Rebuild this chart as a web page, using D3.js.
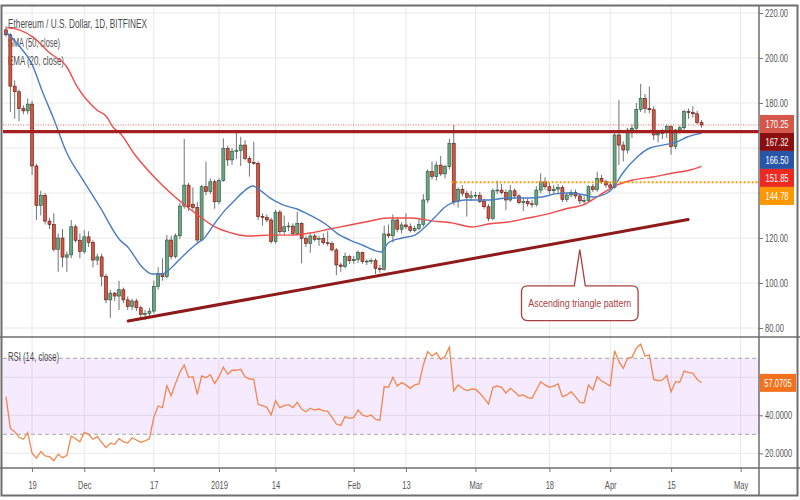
<!DOCTYPE html>
<html><head><meta charset="utf-8">
<script src="https://cdnjs.cloudflare.com/ajax/libs/d3/7.8.5/d3.min.js"></script>
<style>body{margin:0;background:#fff}svg{display:block}text{font-family:'Liberation Sans',Arial,sans-serif}</style>
</head><body><svg id="c" width="800" height="500"></svg>
<script>
// ---------------- DATA ----------------
const startDate = "2018-11-13";
const opens  = [212.5,210.3,187.5,185,177.5,176.5,179.5,152,134.5,139,127.5,126,115,120,111.5,112.5,125,119,114,120.5,118,110.2,111.6,103,92.5,95.5,94.2,97,92.5,89.5,92,89,86,86.5,87.5,98.5,104.3,102.8,119.1,111.7,121,134.2,143.5,135,133.5,119.1,142.8,140.6,145,136.1,145.5,159.8,154.7,158.6,158.9,161.3,155.4,153.6,153.2,129.5,129.2,128,118.4,131.5,122.8,125,125.3,122,126.5,119.8,117.6,120.9,119.4,119.8,117.9,117.5,114.7,108,107.3,111.7,109.9,110.5,113.5,109.5,109.7,110,106.5,106,121.8,121,128,123.9,125.8,125,123.3,124.3,126,136.9,149.5,147.3,152.4,148.5,151.7,162.1,136.2,141.6,139.9,138.1,138.8,139,136.2,133.9,128.7,141,141.3,140.2,136.9,141,138.7,135.7,136.2,135.2,134.9,141.3,145,142.8,141,141.7,142.5,137.2,139.1,140.2,138.7,136.5,136.7,142.8,141.5,146.5,145,143.6,142.5,165.8,161.3,159.1,168,168.8,177.2,182.1,177.6,177,165.8,166.5,166.8,169.5,160.6,168,169,176.2,175.7,175.2,171.3];
const highs  = [214,211,190,186,179,182,181,153,141,140,129,131,122,124,114,128,126,122,123.5,123,119,113,113,104,97,96,101,98,94,93,93,90,88,89,101,107,111,121.3,121,122,135.5,164,144.5,142.5,136,143.5,153.9,146.5,146,146.5,164.3,161,160,167.3,165,163.5,156.5,162.8,154,131,130.5,129,132.5,132.5,130,127,126.5,131.7,127,121,122,122,121,122,123,118.5,115.5,109,113.5,112.5,112,114.5,114,110.5,111,111,108,125.5,126,130.5,129,127,131,126.5,125.5,128.5,139.5,150.5,154,154,156.5,152.5,164,170.2,142.5,143.5,141,141,140.5,140.5,137.5,135,142,145.5,144,141.5,143.5,142,139.5,138,137.5,137,143,148.7,147,144.5,143.5,144,143.5,140,141.5,141.5,139.5,138.5,143.5,144,149.5,148,146,145,166.5,181.3,163,169,170.5,180,188.5,184,187.3,178.5,168,168.5,170.5,170,168.5,170,177,177.5,178.6,176.5,172.5];
const lows   = [209.5,176,173,172,175,175,148,128,130,126,124,114,105,107,105,111,118,111,113,116,107,108,98.5,91,84.5,92,88,91,88,88,87.5,84,83.5,85,86.5,97,101,102,110.5,111,119.5,133,132,132.5,118,118.5,139,139.5,133,135,145,152,152.5,155,152,154.5,147.3,152.5,128,125.5,127,117.5,117.5,121.5,121.5,123,121,121,108.7,116,113.5,118.5,116.5,117,116.5,114,103.5,105,106.5,108.5,108.5,109,108.5,108,108.5,104,104.5,105.5,120,118,122.5,122,124,122.5,122.5,123.5,125,135.5,146,145.5,147.5,146.5,150.5,134.5,133.5,138.5,129.5,136.5,137.5,135.5,133,127.5,128,139.5,139.5,132.5,136,137.5,135,132,134,133.5,134,140,141.5,139.5,139.5,140,136,136,138,137.5,135,135,136,140.5,140.5,144,142.5,141.5,142,152.4,154,157.5,164.5,166.5,176,175.5,175.5,163.5,162.5,164,164.5,157,159.5,166.5,168,173,173.5,170.5,169];
const closes = [210.3,187.5,185,177.5,176.5,179.5,152,134.5,139,127.5,126,115,120,111.5,112.5,125,119,114,120.5,118,110.2,111.6,103,92.5,95.5,94.2,97,92.5,89.5,92,89,86,86.5,87.5,98.5,104.3,102.8,119.1,111.7,121,134.2,143.5,133.9,133.5,119.1,142.8,140.6,145,136.1,145.5,159.8,154.7,158.6,158.9,161.3,155.4,153.6,153.2,129.5,129.2,128,118.4,131.5,122.8,125,125.3,122,126.5,119.8,117.6,120.9,119.4,119.8,117.9,117.5,114.7,108,107.3,111.7,109.9,110.5,113.5,109.5,109.7,110,106.5,106,121.8,121,128,123.9,125.8,125,123.3,124.3,126,136.9,149.5,147.3,152.4,148.5,151.7,162.1,136.2,141.6,139.9,138.1,138.8,139,136.2,133.9,128.7,141,141.3,140.2,136.9,141,138.7,135.7,136.2,135.2,134.9,141.3,145,142.8,141,141.7,142.5,137.2,139.1,140.2,138.7,136.5,136.7,142.8,141.5,146.5,145,143.6,142.5,165.8,161.3,159.1,168,168.8,177.2,182.1,177.6,177,165.8,166.5,166.8,169.5,160.6,168,169,176.2,175.7,175.2,171.3,170.25];
const rsiValues = [49.8,33.1,31.4,28.4,27.4,30.9,20.0,17.4,20.9,18.6,18.2,16.1,19.5,17.7,18.9,29.1,27.7,26.1,31.0,30.0,27.4,28.8,25.8,23.0,25.3,24.7,27.7,26.1,25.4,28.2,27.0,25.8,26.5,27.7,38.9,44.9,44.0,55.6,50.3,56.8,62.6,66.5,60.0,60.3,51.0,60.7,59.8,61.4,56.8,60.3,65.3,61.6,63.7,63.7,64.2,60.3,59.1,58.9,45.8,45.1,44.2,40.2,47.7,44.0,45.1,45.6,44.0,46.8,43.3,41.9,43.7,42.8,43.3,42.4,42.1,38.9,35.4,34.7,39.3,38.4,38.9,42.8,40.2,39.3,40.2,37.9,37.3,55.1,54.7,60.0,55.4,57.2,56.0,54.2,56.0,56.5,66.5,73.5,71.2,73.0,69.5,70.9,75.8,52.8,56.0,54.2,53.0,53.7,53.7,51.6,48.9,45.9,54.7,55.4,54.7,51.6,54.2,52.4,50.2,50.7,49.3,48.9,53.3,57.7,56.0,54.7,55.4,56.5,49.8,50.7,52.4,49.8,46.8,46.6,56.0,53.3,60.3,58.2,56.8,55.4,74.0,68.2,64.7,70.0,70.5,75.3,77.5,71.2,71.7,58.9,58.2,58.6,60.9,52.4,57.7,57.4,63.3,62.6,62.1,58.9,57.07];
const emaDays   = [0,3.2,5.9,8.5,10.8,14,17.7,21.6,26.2,28,31.3,33.6,35.9,38.2,40.5,43.5,45.8,48.1,50.4,52.7,54.5,56.8,58.4,60.7,63.7,66.9,69.9,73.8,76.1,79.1,81.9,86.3,87.9,91.1,94.1,96.4,98.7,101,102.6,105.6,107.9,110.9,115.5,120.1,123.3,126.3,129.3,133.2,135,138.3,139.6,141.9,145.2,148.1,151.1,154.4,156.7,160];
const emaValues = [211.5,205.0,197.6,184.4,173.8,157.8,145.8,133.8,119.1,116,107.1,104,104,107.1,111.6,116.9,120.4,126.7,132.4,136.9,140.4,143.1,141.3,137.8,134.7,132.9,130.2,125.8,122.2,119.1,116.9,113.8,117.8,120,121.3,124.9,129.3,133.8,135.6,136.9,136.9,136.9,137.8,137.8,138.2,139.6,140,139.1,138.2,140,142.2,148.9,156,160,161.3,162.7,164.9,166.5];
const smaDays   = [0,3.2,6.2,10.1,14,16.3,20.9,23.2,24.6,26.2,29.7,34.3,38.9,43.5,48.1,52.7,56.1,60.7,65.3,69.9,74.5,79.1,82.6,87.9,93.4,98,102.6,107.2,110.9,115.5,120.1,124.7,128.6,133.2,136.6,140.6,144.2,148.8,153.4,157.4,160];
const smaValues = [213.5,212.4,209.3,202.2,196,187.5,176.9,173.8,169.3,166.7,156.9,146.7,138.2,131.1,124.9,121.8,120.9,121.3,121.3,122.2,124,125.8,127.1,128.9,128.9,127.6,126.7,124.9,126.2,127.1,128.9,130.7,132.9,135.1,139.1,143.6,145.8,147.1,148.9,150.2,151.85];
const priceTicks = [80,100,120,140,160,180,200,220];
const rsiTicks = [20,40,60];
const dateTicks = ["2018-11-19","2018-12-01","2018-12-17","2019-01-01","2019-01-14","2019-02-01","2019-02-13","2019-03-01","2019-03-18","2019-04-01","2019-04-15","2019-05-01"];
const dateTickLabels = ["19","Dec","17","2019","14","Feb","13","Mar","18","Apr","15","May"];
const resistanceLevel = 167.32, lastPrice = 170.25, emaLast = 166.50, smaLast = 151.85, breakoutLevel = 144.78, rsiLast = 57.0705;
const rsiBand = [30,70];
const trendDays = [28.1,156.9], trendPrices = [83.1,128.2];
const breakoutStartDay = 102.5;
const annoDay = 132, annoTipPrice = 114.9, annoBoxPrice = 91.0;
const annoText = "Ascending triangle pattern";
const titleText = "Ethereum / U.S. Dollar, 1D, BITFINEX";
const smaLabel = "SMA (50, close)", emaLabel = "EMA (20, close)", rsiLabel = "RSI (14, close)";

// ---------------- LAYOUT / STYLE ----------------
const L=3, R=759, PT=6, PB=337, RT=337, RB=468, AB=495;
const SX = 0.72;
const C = {up:"#6ba583", upB:"#225437", dn:"#d75442", dnB:"#5b1a13", wick:"#737375",
  ema:"#4a7cc4", sma:"#ef4b4b", res:"#a32020", trend:"#8e1a1a", brk:"#ff9800", rsi:"#f0874e",
  grid:"#e9e9e9", txt:"#4d4d4d", frame:"#6e6e6e"};

const svg = d3.select("#c");
const start = d3.utcParse("%Y-%m-%d")(startDate);
const dayDate = d => new Date(start.getTime() + d*864e5);
const dates = opens.map((_,i)=>d3.utcDay.offset(start,i));

const x = d3.scaleUtc().domain([start, d3.utcDay.offset(start,169)]).range([6, 6+169*4.347]);
const y = d3.scaleLinear().domain([80,220]).range([328,13]);
const yr = d3.scaleLinear().domain([30,70]).range([434.3,358.3]);

function squeeze(sel){
  sel.each(function(){
    const t=d3.select(this); const tx=+t.attr("x")||0;
    t.attr("x",0).attr("transform",`translate(${tx},0) scale(${SX},1)`);
  });
  return sel;
}

const defs = svg.append("defs");
defs.append("clipPath").attr("id","pc").append("rect").attr("x",L).attr("y",PT).attr("width",R-L).attr("height",PB-PT);
defs.append("clipPath").attr("id","rc").append("rect").attr("x",L).attr("y",RT).attr("width",R-L).attr("height",RB-RT);

svg.append("rect").attr("width",800).attr("height",500).attr("fill","#fff");

// grids
const tickDates = dateTicks.map(d3.utcParse("%Y-%m-%d"));
const grid = svg.append("g").attr("stroke",C.grid).attr("stroke-width",1);
grid.selectAll(".gv").data(tickDates).join("line").attr("x1",d=>x(d)).attr("x2",d=>x(d)).attr("y1",PT).attr("y2",RB);
grid.selectAll(".gh").data(priceTicks).join("line").attr("x1",L).attr("x2",R).attr("y1",d=>y(d)).attr("y2",d=>y(d));
grid.selectAll(".gr").data(rsiTicks).join("line").attr("x1",L).attr("x2",R).attr("y1",d=>yr(d)).attr("y2",d=>yr(d));

// legend text (under candles)
const leg = svg.append("g").attr("fill",C.txt).attr("font-size",12.5);
leg.append("text").attr("x",8).attr("y",28).attr("textLength",139).attr("lengthAdjust","spacingAndGlyphs").text(titleText);
leg.append("text").attr("x",8).attr("y",46.5).attr("textLength",52).attr("lengthAdjust","spacingAndGlyphs").text(smaLabel);
leg.append("text").attr("x",8).attr("y",64.5).attr("textLength",56).attr("lengthAdjust","spacingAndGlyphs").text(emaLabel);

// price pane
const pg = svg.append("g").attr("clip-path","url(#pc)");
const cand = opens.map((o,i)=>({d:dates[i],o,h:highs[i],l:lows[i],c:closes[i]}));
pg.append("g").selectAll("line").data(cand).join("line")
  .attr("x1",d=>x(d.d)).attr("x2",d=>x(d.d)).attr("y1",d=>y(d.h)).attr("y2",d=>y(d.l))
  .attr("stroke",C.wick).attr("stroke-width",1);
pg.append("g").selectAll("rect").data(cand).join("rect")
  .attr("x",d=>x(d.d)-1.5).attr("width",3)
  .attr("y",d=>y(Math.max(d.o,d.c))).attr("height",d=>Math.max(0.8,Math.abs(y(d.o)-y(d.c))))
  .attr("fill",d=>d.c>=d.o?C.up:C.dn).attr("stroke",d=>d.c>=d.o?C.upB:C.dnB).attr("stroke-width",0.6);

const mline = d3.line().x(d=>x(dayDate(d[0]))).y(d=>y(d[1])).curve(d3.curveMonotoneX);
pg.append("path").attr("d",mline(smaDays.map((d,i)=>[d,smaValues[i]]))).attr("fill","none").attr("stroke",C.sma).attr("stroke-width",1.4);
pg.append("path").attr("d",mline(emaDays.map((d,i)=>[d,emaValues[i]]))).attr("fill","none").attr("stroke",C.ema).attr("stroke-width",1.4);

pg.append("line").attr("x1",x(dayDate(breakoutStartDay))).attr("x2",R).attr("y1",y(breakoutLevel)).attr("y2",y(breakoutLevel))
  .attr("stroke",C.brk).attr("stroke-width",2).attr("stroke-dasharray","2,2");
pg.append("line").attr("x1",L).attr("x2",R).attr("y1",y(resistanceLevel)).attr("y2",y(resistanceLevel))
  .attr("stroke",C.res).attr("stroke-width",3.2);
pg.append("line").attr("x1",L).attr("x2",R).attr("y1",y(lastPrice)).attr("y2",y(lastPrice))
  .attr("stroke",C.dn).attr("stroke-width",1).attr("stroke-dasharray","1,1.5").attr("opacity",0.85);
pg.append("line").attr("x1",x(dayDate(trendDays[0]))).attr("x2",x(dayDate(trendDays[1])))
  .attr("y1",y(trendPrices[0])).attr("y2",y(trendPrices[1]))
  .attr("stroke",C.trend).attr("stroke-width",3).attr("stroke-linecap","round");

// annotation
{
  const tx=x(dayDate(annoDay)), ty=y(annoTipPrice), cx=tx, cy=y(annoBoxPrice);
  const w=116.6,h=34.7,r=6, bx0=cx-w/2,bx1=cx+w/2,by0=cy-h/2,by1=cy+h/2;
  const p=`M${bx0+r},${by0}L${cx-5.5},${by0}L${tx},${ty}L${cx+5.5},${by0}L${bx1-r},${by0}Q${bx1},${by0} ${bx1},${by0+r}L${bx1},${by1-r}Q${bx1},${by1} ${bx1-r},${by1}L${bx0+r},${by1}Q${bx0},${by1} ${bx0},${by1-r}L${bx0},${by0+r}Q${bx0},${by0} ${bx0+r},${by0}Z`;
  svg.append("path").attr("d",p).attr("fill","#fff").attr("stroke","#a8413f").attr("stroke-width",1.3);
  svg.append("text").attr("x",cx).attr("y",cy+4).attr("text-anchor","middle").attr("font-size",11.5)
    .attr("textLength",103).attr("lengthAdjust","spacingAndGlyphs").attr("fill","#a8413f").text(annoText);
}

// RSI pane
const rg = svg.append("g").attr("clip-path","url(#rc)");
rg.append("rect").attr("x",L).attr("width",R-L).attr("y",yr(rsiBand[1])).attr("height",yr(rsiBand[0])-yr(rsiBand[1]))
  .attr("fill","rgba(153,21,255,0.09)");
rg.selectAll(".bd").data(rsiBand).join("line").attr("x1",L).attr("x2",R).attr("y1",d=>yr(d)).attr("y2",d=>yr(d))
  .attr("stroke","#a6a6a6").attr("stroke-width",1).attr("stroke-dasharray","4,3");
rg.append("path").attr("d",d3.line().x((d,i)=>x(dates[i])).y(d=>yr(d))(rsiValues))
  .attr("fill","none").attr("stroke",C.rsi).attr("stroke-width",1.3);
svg.append("text").attr("x",8).attr("y",361).attr("font-size",12).attr("fill",C.txt)
  .attr("textLength",51).attr("lengthAdjust","spacingAndGlyphs").text(rsiLabel);

// price label boxes (positions resolved first so covered tick labels can be left out)
const boxes = [
  {v:lastPrice, fill:"#d4574a"},
  {v:resistanceLevel, fill:"#8b0e0e"},
  {v:emaLast, fill:"#2756a8"},
  {v:smaLast, fill:"#ec2a22"},
  {v:breakoutLevel, fill:"#ff9800"}
].sort((a,b)=>b.v-a.v);
let prev=-1e9; const BH=18;
boxes.forEach(b=>{ b.cy=Math.max(y(b.v)-1, prev+BH); prev=b.cy; });
const rsiBoxY = yr(rsiLast);
const coveredP = v => boxes.some(b=>Math.abs(y(v)-b.cy)<BH/2+5);
const coveredR = v => Math.abs(yr(v)-rsiBoxY)<BH/2+5;

// axes
const ax = svg.append("g").attr("transform",`translate(${R},0)`)
  .call(d3.axisRight(y).tickValues(priceTicks).tickFormat(v=>coveredP(v)?"":d3.format(".2f")(v)).tickSize(4));
const ar = svg.append("g").attr("transform",`translate(${R},0)`)
  .call(d3.axisRight(yr).tickValues(rsiTicks).tickFormat(v=>coveredR(v)?"":d3.format(".4f")(v)).tickSize(4));
const ab = svg.append("g").attr("transform",`translate(0,${RB})`)
  .call(d3.axisBottom(x).tickValues(tickDates).tickFormat((d,i)=>dateTickLabels[i]).tickSize(4));
[ax,ar,ab].forEach(g=>{
  g.attr("font-size",10.5).attr("font-family","'Liberation Sans',Arial,sans-serif").attr("color","#555");
  g.select(".domain").remove();
  g.selectAll(".tick line").attr("stroke","#777");
  g.selectAll(".tick text").filter(function(){return this.textContent==="";}).remove();
});
[ax,ar].forEach(g=>squeeze(g.selectAll(".tick text").attr("x",6)));
ab.selectAll(".tick text").attr("y",21).attr("dy",0);
squeeze(ab.selectAll(".tick text"));

const bg = svg.append("g");
bg.selectAll("rect").data(boxes).join("rect").attr("x",R+1).attr("width",34).attr("y",d=>d.cy-BH/2).attr("height",BH).attr("fill",d=>d.fill);
squeeze(bg.selectAll("text").data(boxes).join("text").attr("x",R+18).attr("y",d=>d.cy+3.8).attr("text-anchor","middle")
  .attr("font-size",10.5).attr("fill","#fff").text(d=>d3.format(".2f")(d.v)));
svg.append("rect").attr("x",R+1).attr("width",36).attr("y",rsiBoxY-9).attr("height",18).attr("fill","#f2711c");
squeeze(svg.append("text").attr("x",R+19).attr("y",rsiBoxY+3.8).attr("text-anchor","middle").attr("font-size",10.5).attr("fill","#fff").text(d3.format(".4f")(rsiLast)));

// frame & separators
const fr = svg.append("g").attr("stroke",C.frame).attr("fill","none");
fr.append("rect").attr("x",1.5).attr("y",5.5).attr("width",796).attr("height",490).attr("stroke-width",2);
fr.append("line").attr("x1",0).attr("x2",800).attr("y1",RT).attr("y2",RT).attr("stroke-width",1.5);
fr.append("line").attr("x1",0).attr("x2",800).attr("y1",RB).attr("y2",RB).attr("stroke-width",1.5);
fr.append("line").attr("x1",R).attr("x2",R).attr("y1",PT).attr("y2",AB).attr("stroke-width",1.5);
</script></body></html>
